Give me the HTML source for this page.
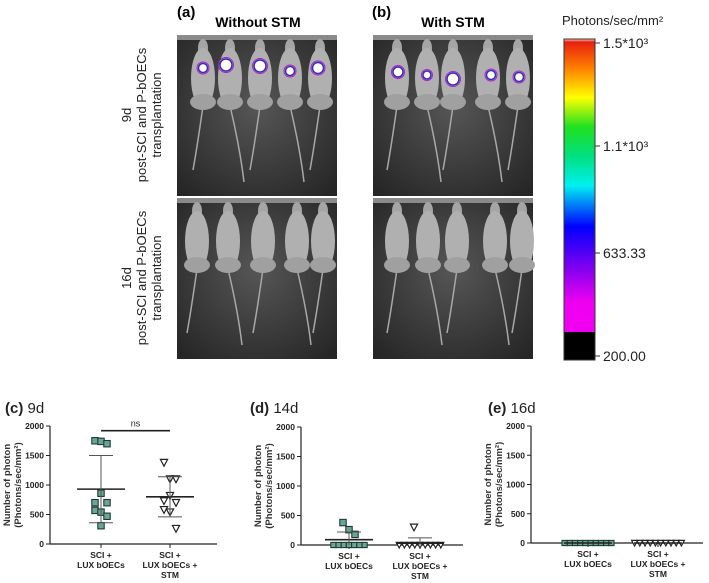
<!DOCTYPE html>
<html><head><meta charset="utf-8">
<style>
html,body{margin:0;padding:0;background:#fff;}
svg{display:block;font-family:"Liberation Sans",Arial,sans-serif;}
</style></head>
<body>
<svg id="fig" width="709" height="583" viewBox="0 0 709 583" xmlns="http://www.w3.org/2000/svg">
<defs>
<radialGradient id="bg" cx="50%" cy="45%" r="70%">
<stop offset="0" stop-color="#565656"/><stop offset="1" stop-color="#262626"/>
</radialGradient>
<linearGradient id="cbar" x1="0" y1="0" x2="0" y2="1">
<stop offset="0" stop-color="#ffd8c8"/>
<stop offset="0.01" stop-color="#e82010"/>
<stop offset="0.1" stop-color="#ff8000"/>
<stop offset="0.2" stop-color="#ffff00"/>
<stop offset="0.3" stop-color="#20e020"/>
<stop offset="0.4" stop-color="#00e080"/>
<stop offset="0.5" stop-color="#00f0f0"/>
<stop offset="0.64" stop-color="#0000ff"/>
<stop offset="0.78" stop-color="#8000f0"/>
<stop offset="0.9" stop-color="#f000f0"/>
<stop offset="1" stop-color="#f000f0"/>
</linearGradient>
</defs>

<text x="177" y="17" font-size="15" font-weight="bold">(a)</text>
<text x="258" y="27" font-size="14" font-weight="bold" text-anchor="middle">Without STM</text>
<text x="372" y="17" font-size="15" font-weight="bold">(b)</text>
<text x="453" y="27" font-size="14" font-weight="bold" text-anchor="middle">With STM</text>

<g font-size="13" fill="#222" text-anchor="middle">
<text transform="translate(131,115) rotate(-90)">9d</text>
<text transform="translate(146,115) rotate(-90)">post-SCI and P-bOECs</text>
<text transform="translate(161,115) rotate(-90)">transplantation</text>
</g>
<g font-size="13" fill="#222" text-anchor="middle">
<text transform="translate(131,278) rotate(-90)">16d</text>
<text transform="translate(146,278) rotate(-90)">post-SCI and P-bOECs</text>
<text transform="translate(161,278) rotate(-90)">transplantation</text>
</g>

<g id="photos"></g>

<text x="562" y="25" font-size="13" fill="#222">Photons/sec/mm²</text>
<rect x="564" y="39" width="31" height="293" fill="url(#cbar)"/>
<rect x="564" y="332" width="31" height="28" fill="#000"/>
<rect x="564" y="39" width="31" height="321" fill="none" stroke="#333" stroke-width="1"/>
<g font-size="14" fill="#222">
<line x1="595" y1="43" x2="600" y2="43" stroke="#333"/><text x="603" y="48">1.5*10³</text>
<line x1="595" y1="146" x2="600" y2="146" stroke="#333"/><text x="603" y="151">1.1*10³</text>
<line x1="595" y1="253" x2="600" y2="253" stroke="#333"/><text x="603" y="258">633.33</text>
<line x1="595" y1="356" x2="600" y2="356" stroke="#333"/><text x="603" y="361">200.00</text>
</g>

<g id="charts"></g>
</svg>
<script>
// chart data
const categories = ["SCI +|LUX bOECs", "SCI +|LUX bOECs +|STM"];
const yTicks = [0, 500, 1000, 1500, 2000];
const c9d_g1 = [1750, 1740, 1700, 860, 700, 700, 570, 540, 470, 310];
const c9d_g2 = [1380, 1100, 1100, 820, 730, 700, 580, 540, 260];
const c9d_mean = [930, 800];
const c9d_sd = [570, 340];
const d14_g1 = [380, 260, 180, 0, 0, 0, 0, 0, 0, 0];
const d14_g2 = [300, 0, 0, 0, 0, 0, 0, 0, 0, 0];
const d14_mean = [90, 30];
const d14_sd = [130, 90];
const e16_g1 = [0, 0, 0, 0, 0, 0, 0, 0, 0, 0];
const e16_g2 = [0, 0, 0, 0, 0, 0, 0, 0, 0, 0];
const e16_mean = [0, 0];
const e16_sd = [0, 0];

const NS = "http://www.w3.org/2000/svg";
function mk(tag, attrs, parent) {
  const e = document.createElementNS(NS, tag);
  for (const k in attrs) e.setAttribute(k, attrs[k]);
  parent.appendChild(e); return e;
}

// ---- photos ----
const photos = document.getElementById('photos');
const panels = [
  {name:'photo-without-stm-9d', x:177, y:35, mice:[203,230,260,290,320], spots:[[203,68,3],[226,65,4.5],[260,66,4.5],[290,71,3],[318,68,4]]},
  {name:'photo-with-stm-9d', x:373, y:35, mice:[397,427,453,488,518], spots:[[398,72,3.5],[427,75,2.5],[453,79,4.5],[491,75,3],[519,77,3]]},
  {name:'photo-without-stm-16d', x:177, y:198, mice:[197,228,263,297,323], spots:[]},
  {name:'photo-with-stm-16d', x:373, y:198, mice:[397,428,457,495,522], spots:[]}
];
panels.forEach(p => {
  const g = mk('g', {}, photos);
  
  
  mk('rect', {x:p.x, y:p.y, width:160, height:161, fill:'url(#bg)'}, g);
  mk('rect', {x:p.x, y:p.y, width:160, height:5, fill:'#8a8a8a'}, g);
  p.mice.forEach((mx, i) => {
    const top = p.y + 3;
    const tailEnd = p.y + 135 + (i%2)*12;
    mk('path', {d:`M${mx} ${top+68} Q${mx+(i%2?10:-6)} ${top+110} ${mx+(i%2?14:-10)} ${tailEnd}`, stroke:'#a8a8a8', 'stroke-width':1.5, fill:'none'}, g);
    mk('ellipse', {cx:mx, cy:top+10, rx:5, ry:9, fill:'#a5a5a5'}, g);
    mk('ellipse', {cx:mx, cy:top+40, rx:12, ry:30, fill:'#b0b0b0'}, g);
    mk('ellipse', {cx:mx, cy:top+64, rx:13, ry:8, fill:'#a0a0a0'}, g);
  });
  p.spots.forEach(s => {
    mk('circle', {cx:s[0], cy:s[1], r:s[2]+1.5, fill:'#fff', stroke:'#3030c0', 'stroke-width':1.5}, g);
    mk('circle', {cx:s[0], cy:s[1], r:s[2]+3, fill:'none', stroke:'#b020c0', 'stroke-width':1}, g);
  });
});

// ---- charts ----
const charts = document.getElementById('charts');
const specs = [
  {name:'chart-c-9d', label:'(c)', day:'9d', lx:5, ax:50, ay0:544, ay1:426, xEnd:217, cats:[101,170], g:[c9d_g1,c9d_g2], mean:c9d_mean, sd:c9d_sd, ns:true},
  {name:'chart-d-14d', label:'(d)', day:'14d', lx:250, ax:301, ay0:545, ay1:427, xEnd:463, cats:[349,420], g:[d14_g1,d14_g2], mean:d14_mean, sd:d14_sd},
  {name:'chart-e-16d', label:'(e)', day:'16d', lx:488, ax:531, ay0:543, ay1:426, xEnd:703, cats:[588,658], g:[e16_g1,e16_g2], mean:e16_mean, sd:e16_sd}
];
const jitter = [-6, 0, 6, 0, -6, 6, -6, 0, 6, 0];
specs.forEach(s => {
  const g = mk('g', {}, charts);
  
  
  const yS = v => s.ay0 - (v/2000)*(s.ay0 - s.ay1);
  const t = mk('text', {x:s.lx, y:413, 'font-size':15, fill:'#222'}, g);
  t.innerHTML = `<tspan font-weight="bold">${s.label}</tspan> ${s.day}`;
  
  
  const ya = mk('line', {x1:s.ax, y1:s.ay1, x2:s.ax, y2:s.ay0, stroke:'#222', 'stroke-width':1.2}, g);
  
  
  const xa = mk('line', {x1:s.ax, y1:s.ay0, x2:s.xEnd, y2:s.ay0, stroke:'#222', 'stroke-width':1.2}, g);
  
  
  yTicks.forEach(v => {
    mk('line', {x1:s.ax-4, y1:yS(v), x2:s.ax, y2:yS(v), stroke:'#222'}, g);
    const tl = mk('text', {x:s.ax-6, y:yS(v)+3, 'font-size':8.5, 'font-weight':'bold', 'text-anchor':'end', fill:'#222'}, g);
    tl.textContent = v;
    
    
  });
  const yt = mk('text', {transform:`translate(${s.ax-35},${(s.ay0+s.ay1)/2}) rotate(-90)`, 'font-size':9.5, 'font-weight':'bold', 'text-anchor':'middle', fill:'#333'}, g);
  yt.innerHTML = `<tspan x="0" dy="-5">Number of photon</tspan><tspan x="0" dy="11">(Photons/sec/mm²)</tspan>`;
  
  
  s.cats.forEach((cx, ci) => {
    mk('line', {x1:cx, y1:s.ay0, x2:cx, y2:s.ay0+4, stroke:'#222'}, g);
    const lines = categories[ci].split('|');
    lines.forEach((ln, li) => {
      const cl = mk('text', {x:cx, y:s.ay0+14+li*10, 'font-size':8.5, 'font-weight':'bold', 'text-anchor':'middle', fill:'#222'}, g);
      cl.textContent = ln;
      
      
    });
    const vals = s.g[ci];
    const nz = vals.filter(v => v === 0).length;
    let zi = 0, nzi = 0;
    vals.forEach(v => {
      let px, sz = 3.2;
      if (v === 0) { px = cx + (zi - (nz-1)/2) * 5.2; zi++; sz = 2.6; }
      else { px = cx + jitter[nzi % jitter.length]; nzi++; }
      const py = yS(v);
      let m;
      if (ci === 0) m = mk('rect', {x:px-sz, y:py-sz, width:2*sz, height:2*sz, fill:'#6aa596', stroke:'#1f3a33', 'stroke-width':1.1}, g);
      else m = mk('path', {d:`M${px-sz-0.4} ${py-sz} L${px+sz+0.4} ${py-sz} L${px} ${py+sz+0.4} Z`, fill:'#fff', stroke:'#222', 'stroke-width':1.2}, g);
      
      
    });
    const mean = s.mean[ci], sd = s.sd[ci];
    const ml = mk('line', {x1:cx-24, y1:yS(mean), x2:cx+24, y2:yS(mean), stroke:'#222', 'stroke-width':1.6}, g);
    
    
    if (sd > 0) {
      mk('line', {x1:cx, y1:yS(mean+sd), x2:cx, y2:yS(Math.max(0, mean-sd)), stroke:'#555', 'stroke-width':1}, g);
      mk('line', {x1:cx-12, y1:yS(mean+sd), x2:cx+12, y2:yS(mean+sd), stroke:'#555', 'stroke-width':1}, g);
      if (mean-sd > 0) mk('line', {x1:cx-12, y1:yS(mean-sd), x2:cx+12, y2:yS(mean-sd), stroke:'#555', 'stroke-width':1}, g);
    }
  });
  if (s.ns) {
    const b = mk('line', {x1:s.cats[0], y1:yS(1920), x2:s.cats[1], y2:yS(1920), stroke:'#222', 'stroke-width':1.6}, g);
    
    
    const nt = mk('text', {x:(s.cats[0]+s.cats[1])/2, y:yS(1920)-4, 'font-size':9, 'text-anchor':'middle', fill:'#222'}, g);
    nt.textContent = 'ns';
    
    
  }
});
</script>
</body></html>
